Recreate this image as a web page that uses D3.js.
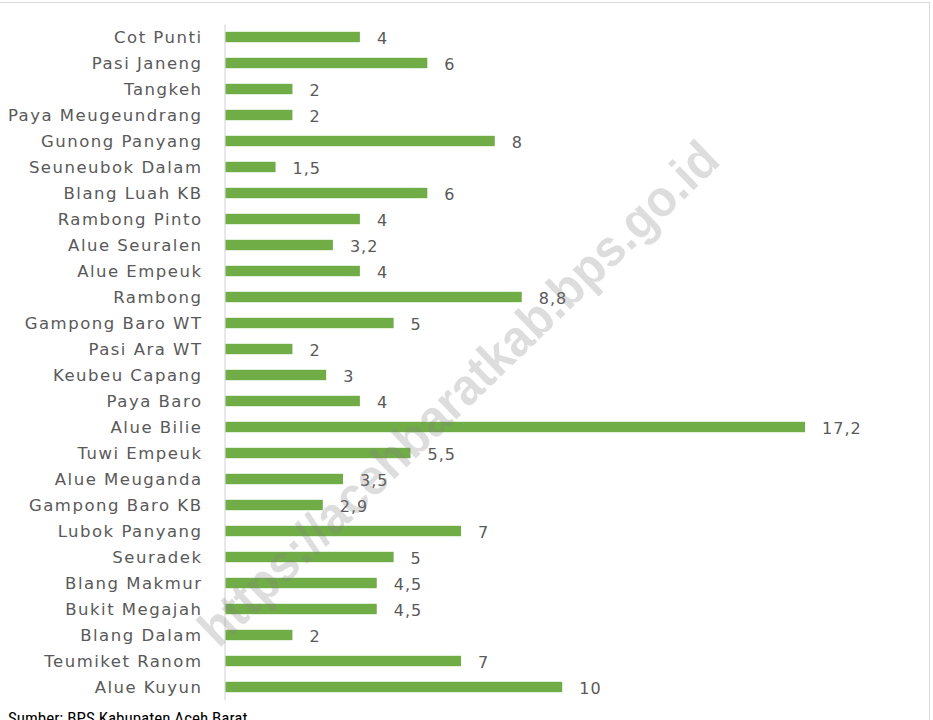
<!DOCTYPE html>
<html>
<head>
<meta charset="utf-8">
<script src="https://cdn.jsdelivr.net/npm/d3@7"></script>
<style>
  body { margin: 0; background: #fff; }
</style>
</head>
<body>
<div id="chart"></div>
<script>
const desa = ["Cot Punti", "Pasi Janeng", "Tangkeh", "Paya Meugeundrang", "Gunong Panyang",
  "Seuneubok Dalam", "Blang Luah KB", "Rambong Pinto", "Alue Seuralen", "Alue Empeuk",
  "Rambong", "Gampong Baro WT", "Pasi Ara WT", "Keubeu Capang", "Paya Baro", "Alue Bilie",
  "Tuwi Empeuk", "Alue Meuganda", "Gampong Baro KB", "Lubok Panyang", "Seuradek",
  "Blang Makmur", "Bukit Megajah", "Blang Dalam", "Teumiket Ranom", "Alue Kuyun"];
const nilai = [4, 6, 2, 2, 8, 1.5, 6, 4, 3.2, 4, 8.8, 5, 2, 3, 4, 17.2, 5.5, 3.5, 2.9, 7, 5, 4.5, 4.5, 2, 7, 10];
const sumber = "Sumber: BPS Kabupaten Aceh Barat";
const watermark = "https://acehbaratkab.bps.go.id";

const W = 933, H = 720;
const data = desa.map((d, i) => ({ desa: d, nilai: nilai[i] }));

const svg = d3.select("#chart").append("svg")
    .attr("width", W).attr("height", H);

// frame
svg.append("rect")
    .attr("x", -10).attr("y", 2.5)
    .attr("width", 939.5).attr("height", 740)
    .attr("fill", "none").attr("stroke", "#d9d9d9");

const x = d3.scaleLinear().domain([0, 18]).range([225, 832]);
const y = d3.scaleBand().domain(desa).range([24, 700])
    .paddingInner(0.6).paddingOuter(0.3);

// bars
svg.selectAll("rect.bar")
    .data(data)
    .enter()
    .append("rect")
    .attr("class", "bar")
    .attr("x", x(0))
    .attr("y", d => y(d.desa))
    .attr("width", d => x(d.nilai) - x(0))
    .attr("height", y.bandwidth())
    .attr("fill", "#70ad47");

// category axis
const yAxis = d3.axisLeft(y).tickSize(0).tickPadding(22);
const gy = svg.append("g")
    .attr("transform", "translate(224.5,0)")
    .call(yAxis);
gy.select(".domain").attr("stroke", "#d9d9d9").attr("stroke-width", 1.2);
gy.selectAll("text")
    .attr("dy", "0.38em")
    .attr("font-family", "DejaVu Sans, sans-serif")
    .attr("font-size", "16.5px")
    .attr("letter-spacing", "1.5px")
    .attr("fill", "#595959");

// value labels
svg.selectAll("text.val")
    .data(data)
    .enter()
    .append("text")
    .attr("class", "val")
    .attr("x", d => x(d.nilai) + 17)
    .attr("y", d => y(d.desa) + y.bandwidth() / 2)
    .attr("dy", "0.42em")
    .attr("font-family", "DejaVu Sans, sans-serif")
    .attr("font-size", "16px")
    .attr("letter-spacing", "1px")
    .attr("fill", "#595959")
    .text(d => String(d.nilai).replace(".", ","));

// watermark
svg.append("text")
    .attr("transform", "translate(458,393) rotate(-44)")
    .attr("text-anchor", "middle")
    .attr("dy", "0.35em")
    .attr("font-family", "Liberation Sans, Arial, sans-serif")
    .attr("font-weight", "bold")
    .attr("font-size", "51px")
    .attr("textLength", 700)
    .attr("lengthAdjust", "spacingAndGlyphs")
    .attr("fill", "#808080")
    .attr("fill-opacity", 0.27)
    .text(watermark);

// source
svg.append("text")
    .attr("x", 8).attr("y", 724)
    .attr("font-family", "Liberation Sans Narrow, Roboto Condensed, sans-serif")
    .attr("font-stretch", "condensed")
    .attr("font-size", "17px")
    .attr("fill", "#000")
    .text(sumber);
</script>
</body>
</html>
